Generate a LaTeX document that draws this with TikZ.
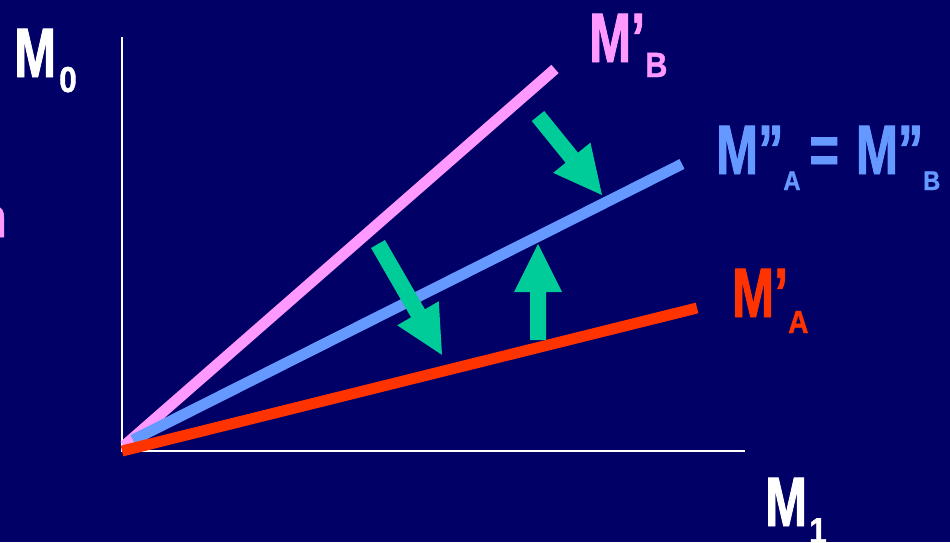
\documentclass[tikz,border=0pt]{standalone}
\usepackage{fontspec}
\newfontfamily\imp[FakeStretch=0.72,FakeBold=1.2]{Liberation Sans}
\newfontfamily\impsub[FakeStretch=0.88,FakeBold=1.2]{Liberation Sans}
\definecolor{bg}{RGB}{0,0,102}
\definecolor{mpink}{RGB}{255,153,255}
\definecolor{mblue}{RGB}{102,153,255}
\definecolor{mred}{RGB}{255,51,0}
\definecolor{mgreen}{RGB}{0,204,153}
\newcommand{\bigM}[1]{{\fontsize{70}{70}\selectfont #1}}
\newcommand{\subT}[3]{\raisebox{-#1pt}{\impsub\bfseries\fontsize{#2}{#2}\selectfont #3}}
\tikzset{
  lbl/.style={anchor=base west, inner sep=0pt, font=\imp\bfseries},
  curve/.style={line width=11pt, line cap=butt},
  axis/.style={white, line width=2pt},
  pics/barrow/.style={code={
    \fill[mgreen] (0,-8) -- ({#1-48},-8) -- ({#1-48},-24) -- (#1,0) -- ({#1-48},24) -- ({#1-48},8) -- (0,8) -- cycle;}}
}
\begin{document}
\begin{tikzpicture}[x=1pt,y=-1pt]
\fill[bg] (0,0) rectangle (950,542);
\useasboundingbox (0,0) rectangle (950,542);
% axes
\coordinate (O) at (122,451);
\coordinate (ytop) at (122,37);
\coordinate (xend) at (745,451);
\draw[axis] (ytop) -- (O) -- (xend);
% lines
\coordinate (pA) at (124,446); \coordinate (pB) at (555,69);
\coordinate (bA) at (133,440); \coordinate (bB) at (682,164);
\coordinate (rA) at (122,451); \coordinate (rB) at (697,308);
\draw[curve, mpink] (pA) -- (pB);
\draw[curve, mblue] (bA) -- (bB);
\draw[curve, mred] (rA) -- (rB);
% arrows
\pic[rotate=-51] at (538,116) {barrow=101.7};
\pic[rotate=90] at (538,340) {barrow=96};
\pic[rotate=-60] at (378,244) {barrow=128};
% labels
\node[lbl, text=white] (m0) at (14,77) {\bigM{M}\hspace{3pt}\subT{15}{36}{0}};
\node[lbl, text=white] (m1) at (765,526) {\bigM{M}\hspace{2pt}\subT{17}{36}{1}};
\node[lbl, text=mpink] (mb) at (589,62) {\bigM{M’}\subT{15}{35}{B}};
\node[lbl, text=mred] (ma) at (732,317) {\bigM{M’}\subT{16}{32}{A}};
\node[lbl, text=mblue] (mab) at (716,174) {\bigM{M”}\subT{16}{27}{A}\hspace{9pt}\bigM{=}\hspace{17pt}\bigM{M”}\subT{16}{27}{B}};
\node[anchor=base east, inner sep=0pt, font=\imp\bfseries, text=mpink] (frag) at (6.5,237) {\fontsize{56}{56}\selectfont n};
\end{tikzpicture}
\end{document}
